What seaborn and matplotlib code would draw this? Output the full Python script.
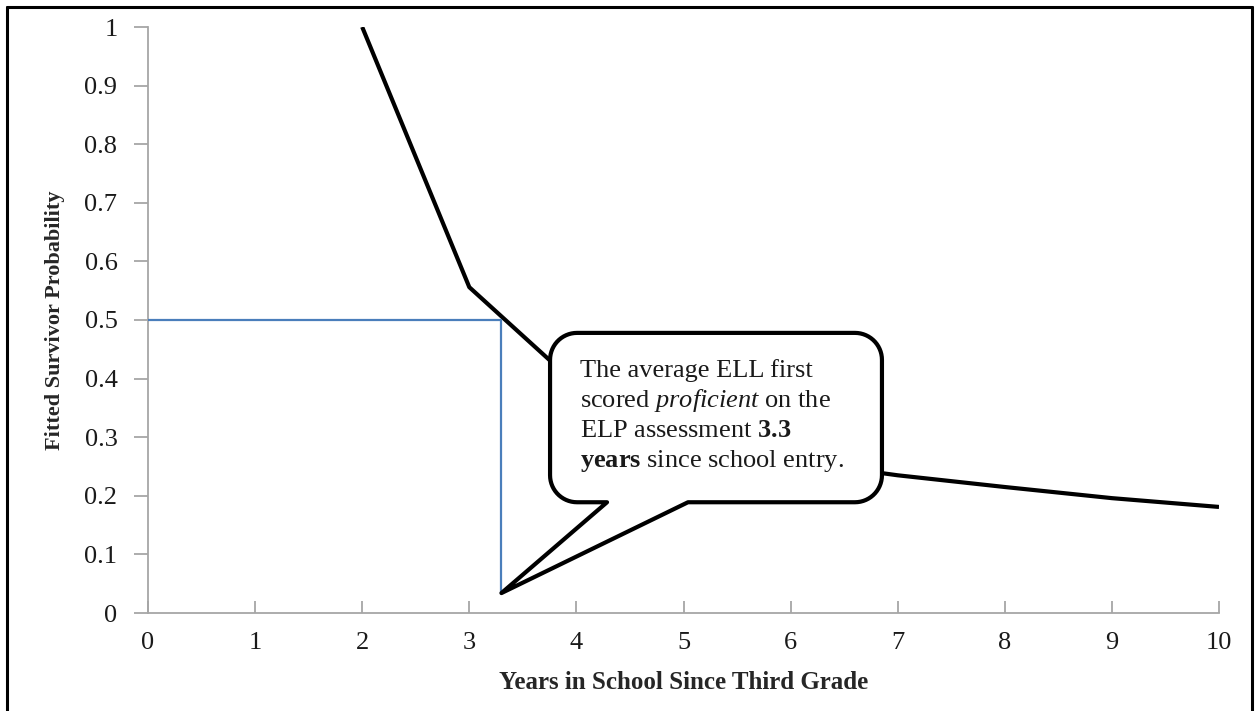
import numpy as np
import pandas as pd
import matplotlib
matplotlib.use("Agg")
import matplotlib.pyplot as plt
import seaborn as sns
from matplotlib.patches import Polygon
from matplotlib.transforms import IdentityTransform
from matplotlib.lines import Line2D

# ---------------- data ----------------
years = [2, 3, 4, 5, 6, 7, 8, 9, 10]
survivor = [1.0, 0.556, 0.39, 0.30, 0.26, 0.235, 0.215, 0.196, 0.181]

median_x = [0, 3.3, 3.3]
median_y = [0.5, 0.5, 0.034]

x_ticks = list(range(0, 11))
y_ticks = [0, 0.1, 0.2, 0.3, 0.4, 0.5, 0.6, 0.7, 0.8, 0.9, 1.0]
y_ticklabels = ["0", "0.1", "0.2", "0.3", "0.4", "0.5", "0.6", "0.7", "0.8", "0.9", "1"]

x_label = "Years in School Since Third Grade"
y_label = "Fitted Survivor Probability"

callout_lines = [
    "The average ELL first",
    r"scored $\mathit{proficient}$ on the",
    r"ELP assessment $\mathbf{3.3}$",
    r"$\mathbf{years}$ since school entry.",
]
# callout box extent (data coords) and pointer
box_left, box_right, box_bottom, box_top = 3.754, 6.853, 0.189, 0.478
ptr_base_left, ptr_base_right = 4.286, 5.042
ptr_tip = (3.3, 0.034)

# ---------------- style ----------------
sns.set_style("white")
plt.rcParams["font.family"] = ["Liberation Serif", "DejaVu Serif"]
plt.rcParams["mathtext.fontset"] = "custom"
plt.rcParams["mathtext.rm"] = "Liberation Serif"
plt.rcParams["mathtext.it"] = "Liberation Serif:italic"
plt.rcParams["mathtext.bf"] = "Liberation Serif:bold"

W, H = 1255, 711
fig = plt.figure(figsize=(W / 100, H / 100), dpi=100)
ax = fig.add_axes([148 / W, 1 - 613 / H, (1219 - 148) / W, (613 - 27) / H])

df_s = pd.DataFrame({"x": years, "y": survivor})
df_m = pd.DataFrame({"x": median_x, "y": median_y})

sns.lineplot(data=df_m, x="x", y="y", sort=False, estimator=None, color="#4a7ebb",
             linewidth=1.6, ax=ax, zorder=3)
sns.lineplot(data=df_s, x="x", y="y", sort=False, estimator=None, color="black",
             linewidth=3.0, ax=ax, zorder=2)
for l in ax.lines:
    l.set_solid_joinstyle("round")
    l.set_solid_capstyle("butt")

ax.set_xlim(0, 10)
ax.set_ylim(0, 1)
ax.set_xticks(x_ticks)
ax.set_yticks(y_ticks)
ax.set_yticklabels(y_ticklabels)

spine_col = "#a6a6a6"
for s in ["top", "right"]:
    ax.spines[s].set_visible(False)
for s in ["left", "bottom"]:
    ax.spines[s].set_color(spine_col)
    ax.spines[s].set_linewidth(1.3)

ax.tick_params(axis="y", direction="out", length=10, width=1.3, color=spine_col,
               labelsize=19, pad=12, labelcolor="#1a1a1a", left=True)
ax.tick_params(axis="x", direction="in", length=9, width=1.3, color=spine_col,
               labelsize=19, pad=14, labelcolor="#1a1a1a", bottom=True)

ax.set_xlabel(x_label, fontsize=18, fontweight="bold", labelpad=12)
ax.set_ylabel(y_label, fontsize=16, fontweight="bold", labelpad=14)
ax.grid(False)

# ---------------- callout ----------------
tr = ax.transData
L, B = tr.transform((box_left, box_bottom))
R, T = tr.transform((box_right, box_top))
pl = tr.transform((ptr_base_left, box_bottom))[0]
pr = tr.transform((ptr_base_right, box_bottom))[0]
tx, ty = tr.transform(ptr_tip)
r = 27.0


def arc(cx, cy, a0, a1, n=16):
    t = np.linspace(np.radians(a0), np.radians(a1), n)
    return list(zip(cx + r * np.cos(t), cy + r * np.sin(t)))


verts = []
verts += [(L + r, T), (R - r, T)]
verts += arc(R - r, T - r, 90, 0)
verts += [(R, B + r)]
verts += arc(R - r, B + r, 0, -90)
verts += [(pr, B), (tx, ty), (pl, B), (L + r, B)]
verts += arc(L + r, B + r, -90, -180)
verts += [(L, T - r)]
verts += arc(L + r, T - r, 180, 90)

callout = Polygon(verts, closed=True, facecolor="white", edgecolor="black",
                  linewidth=3.0, joinstyle="round", transform=IdentityTransform(),
                  zorder=5, clip_on=False)
ax.add_patch(callout)

for i, txt in enumerate(callout_lines):
    ax.annotate(txt, xy=(box_left, box_top), xycoords="data",
                xytext=(30, -44 - 30 * i), textcoords="offset pixels",
                ha="left", va="baseline", fontsize=19, color="#1a1a1a", zorder=6)

# ---------------- outer frame ----------------
fx0, fx1 = 7 / W, 1252 / W
fy1 = 1 - 7 / H
for xs, ys in [([fx0, fx1], [fy1, fy1]), ([fx0, fx0], [0, fy1]), ([fx1, fx1], [0, fy1])]:
    fig.add_artist(Line2D(xs, ys, color="black", linewidth=2.2, transform=fig.transFigure))

fig.savefig("out.png", dpi=100)
